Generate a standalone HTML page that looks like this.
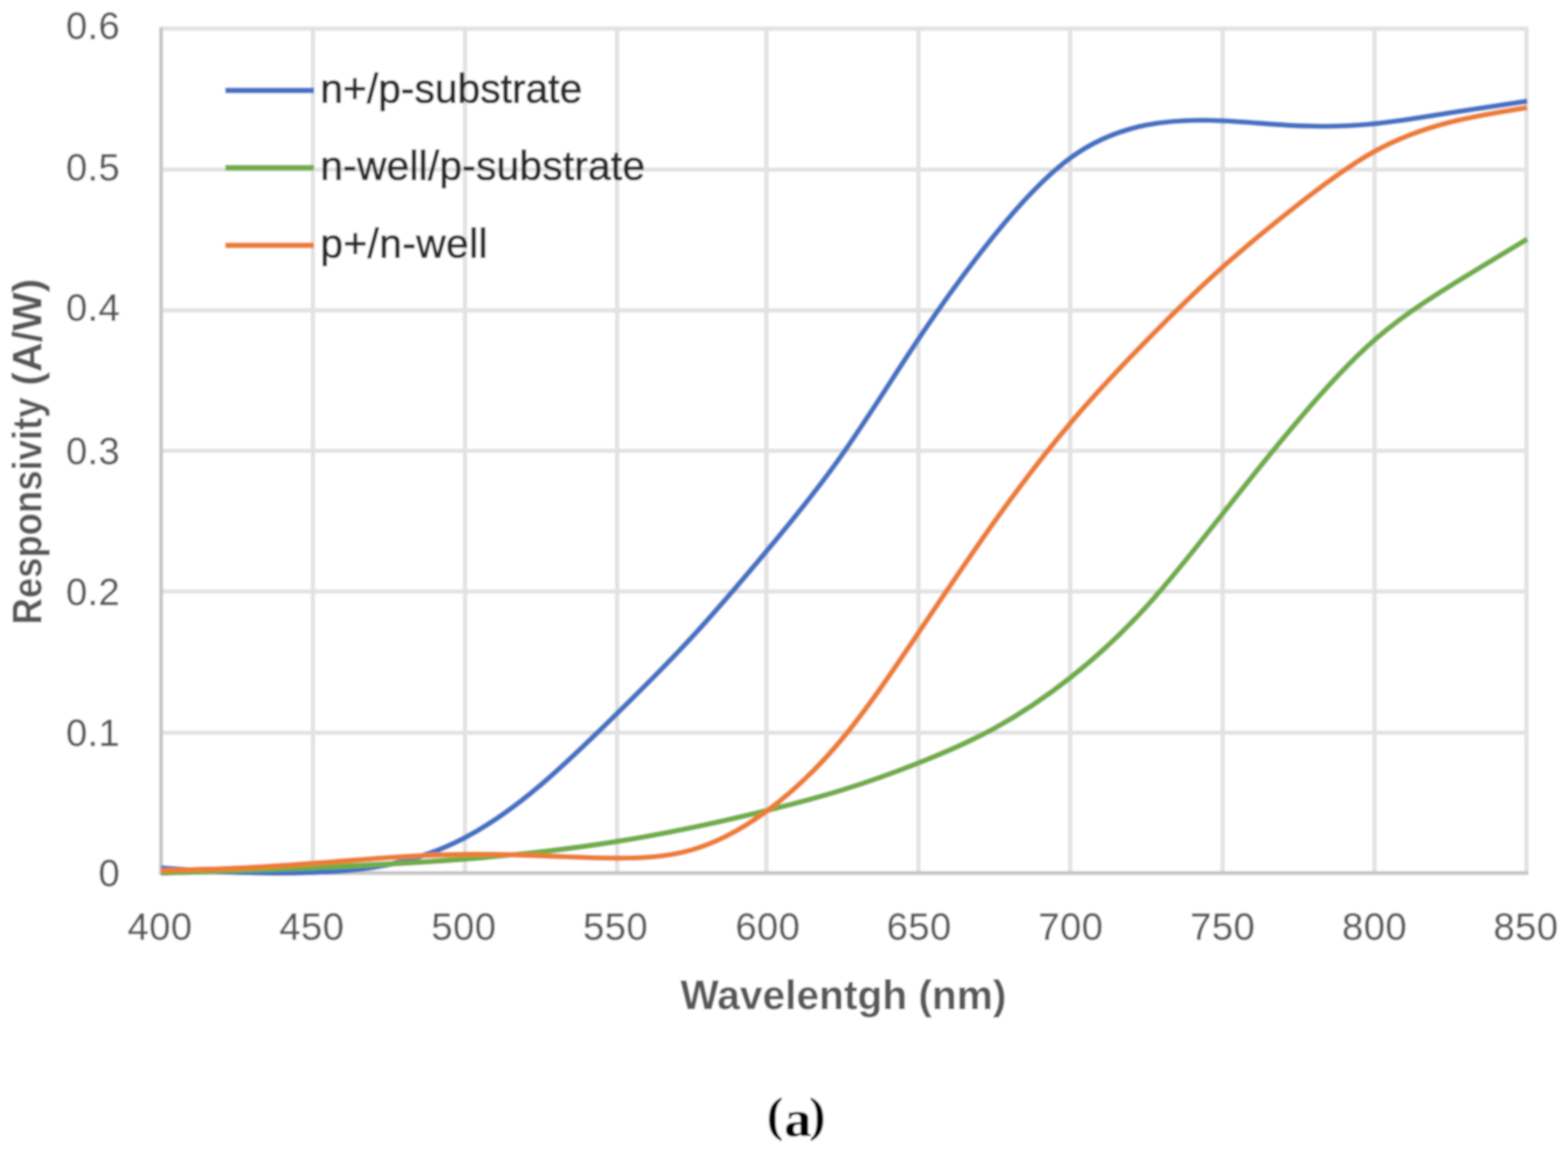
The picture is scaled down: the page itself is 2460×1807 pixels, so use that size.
<!DOCTYPE html>
<html lang="en"><head><meta charset="utf-8"><title>Responsivity (A/W) - Wavelentgh (nm)</title>
<style>
html,body{margin:0;padding:0;background:#fff;}
body{width:2460px;height:1807px;overflow:hidden;}
svg{display:block;}
text{font-family:"Liberation Sans",sans-serif;}
.tick{font-size:60px;fill:#595959;letter-spacing:0.6px;stroke:#595959;stroke-width:0.4px;}
.leg{font-size:64px;fill:#2a2a2a;stroke:#2a2a2a;stroke-width:1.2px;stroke-linejoin:round;}
.ttl{font-size:65px;font-weight:bold;fill:#595959;}
.cap{font-family:"Liberation Serif",serif;font-size:81px;font-weight:bold;fill:#000;}
.g{stroke:#e2e2e2;stroke-width:6.6;fill:none;}
.ax{stroke:#c6c6c6;stroke-width:6;fill:none;}
.c{fill:none;stroke-width:8.4;stroke-linejoin:round;stroke-linecap:butt;}
</style></head><body>
<svg width="2460" height="1807" viewBox="0 0 2460 1807">
<defs><filter id="b" x="-2%" y="-2%" width="104%" height="104%"><feGaussianBlur stdDeviation="1.5"/></filter>
<clipPath id="cp"><rect x="250.7" y="0" width="2147.2" height="1807"/></clipPath></defs>
<rect width="2460" height="1807" fill="#fff"/>
<g filter="url(#b)">
<rect width="2460" height="1807" fill="#fff"/>
<g class="g">
<line x1="252.7" y1="44.9" x2="2397.4" y2="44.9"/>
<line x1="252.7" y1="266.0" x2="2397.4" y2="266.0"/>
<line x1="252.7" y1="486.9" x2="2397.4" y2="486.9"/>
<line x1="252.7" y1="707.0" x2="2397.4" y2="707.0"/>
<line x1="252.7" y1="927.8" x2="2397.4" y2="927.8"/>
<line x1="252.7" y1="1149.2" x2="2397.4" y2="1149.2"/>
<line x1="490.9" y1="42.4" x2="490.9" y2="1369.6"/>
<line x1="729.5" y1="42.4" x2="729.5" y2="1369.6"/>
<line x1="968.2" y1="42.4" x2="968.2" y2="1369.6"/>
<line x1="1202.4" y1="42.4" x2="1202.4" y2="1369.6"/>
<line x1="1440.9" y1="42.4" x2="1440.9" y2="1369.6"/>
<line x1="1679.0" y1="42.4" x2="1679.0" y2="1369.6"/>
<line x1="1918.1" y1="42.4" x2="1918.1" y2="1369.6"/>
<line x1="2156.5" y1="42.4" x2="2156.5" y2="1369.6"/>
<line x1="2394.9" y1="42.4" x2="2394.9" y2="1369.6"/>
</g>
<g class="ax">
<line x1="252.7" y1="42.4" x2="252.7" y2="1372.6"/>
<line x1="249.7" y1="1369.6" x2="2397.9" y2="1369.6"/>
</g>
<g class="c" clip-path="url(#cp)">
<path stroke="#4472c4" d="M252.7 1361.4 C292.4 1364.2 332.1 1366.9 371.9 1368.4 C411.6 1369.8 451.3 1369.9 491.0 1368.5 C530.7 1367.1 570.5 1364.2 610.2 1356.1 C649.9 1348.0 689.7 1334.8 729.4 1314.0 C769.0 1293.2 808.7 1264.8 848.3 1231.3 C887.9 1197.8 927.6 1159.1 967.2 1120.1 C1006.3 1081.7 1045.5 1042.9 1084.6 1000.4 C1123.7 958.0 1162.9 912.0 1202.0 865.2 C1241.7 817.8 1281.4 769.6 1321.0 713.3 C1360.7 657.0 1400.4 592.7 1440.1 533.2 C1480.0 473.4 1519.9 418.5 1559.8 369.4 C1599.6 320.2 1639.5 276.8 1679.4 247.7 C1719.0 218.8 1758.7 204.0 1798.3 196.2 C1838.0 188.4 1877.6 187.6 1917.3 189.4 C1957.1 191.2 1996.9 195.6 2036.7 197.3 C2076.4 199.0 2116.2 198.1 2156.0 194.1 C2195.7 190.2 2235.4 183.3 2275.1 176.9 C2315.4 170.5 2355.7 164.5 2396.0 158.6"/>
<path stroke="#70ad47" d="M252.7 1369.5 C292.4 1368.3 332.1 1367.0 371.9 1365.6 C411.6 1364.2 451.3 1362.7 491.0 1361.0 C530.7 1359.3 570.5 1357.5 610.2 1355.3 C649.9 1353.1 689.7 1350.6 729.4 1347.5 C769.0 1344.4 808.7 1340.7 848.3 1336.2 C887.9 1331.7 927.6 1326.4 967.2 1320.0 C1006.3 1313.8 1045.5 1306.5 1084.6 1298.4 C1123.7 1290.2 1162.9 1281.2 1202.0 1271.6 C1241.7 1261.9 1281.4 1251.6 1321.0 1239.3 C1360.7 1227.0 1400.4 1212.8 1440.1 1197.1 C1480.0 1181.4 1519.9 1164.3 1559.8 1142.6 C1599.6 1120.8 1639.5 1094.3 1679.4 1062.9 C1719.0 1031.6 1758.7 995.4 1798.3 951.8 C1838.0 908.3 1877.6 857.3 1917.3 807.0 C1957.1 756.4 1996.9 706.4 2036.7 659.5 C2076.4 612.5 2116.2 568.6 2156.0 533.7 C2195.7 499.0 2235.4 473.3 2275.1 448.5 C2315.4 423.4 2355.7 399.2 2396.0 375.0"/>
<path stroke="#ed7d31" d="M252.7 1365.6 C292.4 1364.6 332.1 1363.6 371.9 1361.8 C411.6 1360.0 451.3 1357.3 491.0 1354.3 C530.7 1351.3 570.5 1347.8 610.2 1345.1 C649.9 1342.4 689.7 1340.5 729.4 1340.1 C769.0 1339.7 808.7 1340.8 848.3 1342.4 C887.9 1343.9 927.6 1345.9 967.2 1346.0 C1006.3 1346.2 1045.5 1344.4 1084.6 1333.2 C1123.7 1322.0 1162.9 1301.3 1202.0 1272.8 C1241.7 1243.9 1281.4 1207.0 1321.0 1159.2 C1360.7 1111.5 1400.4 1052.8 1440.1 993.8 C1480.0 934.4 1519.9 874.8 1559.8 818.8 C1599.6 762.9 1639.5 710.7 1679.4 663.7 C1719.0 616.9 1758.7 575.1 1798.3 534.7 C1838.0 494.3 1877.6 455.3 1917.3 419.7 C1957.1 384.0 1996.9 351.8 2036.7 320.7 C2076.4 289.6 2116.2 259.7 2156.0 237.7 C2195.7 215.7 2235.4 201.7 2275.1 191.6 C2315.4 181.4 2355.7 175.1 2396.0 168.8"/>
</g>
<line x1="353.5" y1="141.9" x2="492.5" y2="141.9" stroke="#4472c4" stroke-width="8.8"/>
<line x1="353.5" y1="263.2" x2="492.5" y2="263.2" stroke="#70ad47" stroke-width="8.8"/>
<line x1="353.5" y1="384.9" x2="492.5" y2="384.9" stroke="#ed7d31" stroke-width="8.8"/>
<text class="leg" x="502.5" y="160.5" textLength="411.0" lengthAdjust="spacing">n+/p-substrate</text>
<text class="leg" x="502.5" y="282.3" textLength="509.5" lengthAdjust="spacing">n-well/p-substrate</text>
<text class="leg" x="502.5" y="404.2" textLength="262.5" lengthAdjust="spacing">p+/n-well</text>
<text class="tick" text-anchor="end" x="188.6" y="61.1">0.6</text>
<text class="tick" text-anchor="end" x="188.6" y="282.9">0.5</text>
<text class="tick" text-anchor="end" x="188.6" y="502.6">0.4</text>
<text class="tick" text-anchor="end" x="188.6" y="728.0">0.3</text>
<text class="tick" text-anchor="end" x="188.6" y="948.6">0.2</text>
<text class="tick" text-anchor="end" x="188.6" y="1170.2">0.1</text>
<text class="tick" text-anchor="end" x="188.6" y="1390.1">0</text>
<text class="tick" text-anchor="middle" x="251.0" y="1474.4">400</text>
<text class="tick" text-anchor="middle" x="489.3" y="1474.4">450</text>
<text class="tick" text-anchor="middle" x="727.7" y="1474.4">500</text>
<text class="tick" text-anchor="middle" x="965.8" y="1474.4">550</text>
<text class="tick" text-anchor="middle" x="1204.6" y="1474.4">600</text>
<text class="tick" text-anchor="middle" x="1441.9" y="1474.4">650</text>
<text class="tick" text-anchor="middle" x="1680.0" y="1474.4">700</text>
<text class="tick" text-anchor="middle" x="1918.3" y="1474.4">750</text>
<text class="tick" text-anchor="middle" x="2156.4" y="1474.4">800</text>
<text class="tick" text-anchor="middle" x="2393.9" y="1474.4">850</text>
<text class="ttl" x="1067.5" y="1583.4" textLength="511.5" lengthAdjust="spacingAndGlyphs">Wavelentgh (nm)</text>
<text class="ttl" transform="translate(64.8 0) rotate(-90)"><tspan x="-979.5" y="0" textLength="356" lengthAdjust="spacingAndGlyphs">Responsivity</tspan> <tspan x="-605" y="0" textLength="168" lengthAdjust="spacingAndGlyphs">(A/W)</tspan></text>
<text class="cap"><tspan style="font-size:77px" x="1203" y="1773.5">(</tspan><tspan x="1230.2" y="1781.7" textLength="43" lengthAdjust="spacingAndGlyphs">a</tspan><tspan style="font-size:77px" x="1269.5" y="1773.5">)</tspan></text>
</g>
</svg>
</body></html>
